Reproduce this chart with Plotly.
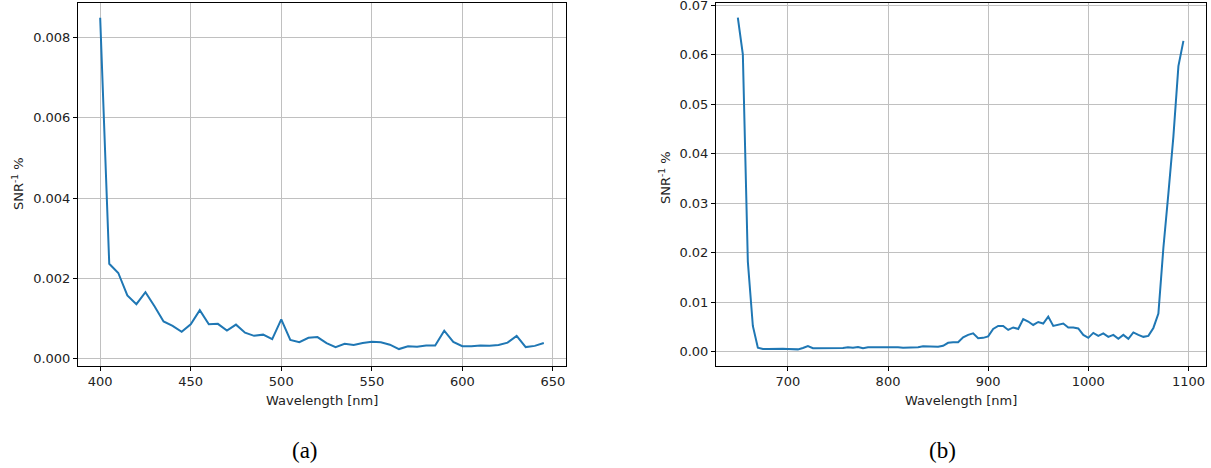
import plotly.graph_objects as go

# (a) visible band, 5 nm sampling
wl_a = list(range(400, 650, 5))
snr_a = [0.0085, 0.00236, 0.00213, 0.00157, 0.00135, 0.00165, 0.0013, 0.00092, 0.00081, 0.00066,
         0.00085, 0.0012, 0.00085, 0.00086, 0.00069, 0.00084, 0.00064, 0.00056, 0.00059, 0.00048,
         0.00097, 0.00046, 0.0004, 0.00051, 0.00053, 0.00038, 0.00028, 0.00036, 0.00033, 0.00038,
         0.00041, 0.0004, 0.00034, 0.00023, 0.0003, 0.00029, 0.00032, 0.00032, 0.00069, 0.00041,
         0.0003, 0.0003, 0.00032, 0.00031, 0.00033, 0.00039, 0.00056, 0.00028, 0.00031, 0.00038]

# (b) near-infrared band, 5 nm sampling
wl_b = list(range(650, 1100, 5))
snr_b = [0.0675, 0.0601, 0.0182, 0.0052, 0.0008, 0.00055, 0.00055, 0.0006, 0.0007, 0.0006,
         0.00055, 0.00055, 0.00047, 0.00075, 0.00115, 0.0007, 0.0007, 0.00075, 0.0008, 0.0008,
         0.0007, 0.00075, 0.0009, 0.0008, 0.00095, 0.0007, 0.0009, 0.0009, 0.001, 0.001,
         0.0009, 0.0009, 0.0009, 0.0008, 0.0008, 0.00095, 0.0009, 0.0011, 0.0011, 0.0011,
         0.001, 0.0012, 0.0018, 0.0019, 0.0019, 0.0029, 0.0034, 0.0037, 0.0027, 0.0028,
         0.0031, 0.0046, 0.0052, 0.0052, 0.0044, 0.0049, 0.0046, 0.0066, 0.0061, 0.0054,
         0.006, 0.0057, 0.0071, 0.0052, 0.0054, 0.0057, 0.0049, 0.0049, 0.0047, 0.0034,
         0.0028, 0.0038, 0.0032, 0.0037, 0.003, 0.0034, 0.0026, 0.0034, 0.0026, 0.0039,
         0.0034, 0.003, 0.0032, 0.0048, 0.0077, 0.021, 0.032, 0.0435, 0.0577, 0.0628]

ticks_xa = [400, 450, 500, 550, 600, 650]
ticks_ya = [0.0, 0.002, 0.004, 0.006, 0.008]
ticks_xb = [700, 800, 900, 1000, 1100]
ticks_yb = [0.0, 0.01, 0.02, 0.03, 0.04, 0.05, 0.06, 0.07]

W, H = 1211, 468
LINE = "#1f77b4"
TXT = "#222222"
FONT = dict(family="DejaVu Sans", size=13, color=TXT)


def py(px):
    return 1 - px / H


fig = go.Figure()
fig.add_trace(go.Scatter(x=wl_a, y=snr_a, mode="lines", line=dict(color=LINE, width=2),
                         xaxis="x", yaxis="y", showlegend=False))
fig.add_trace(go.Scatter(x=wl_b, y=snr_b, mode="lines", line=dict(color=LINE, width=2),
                         xaxis="x2", yaxis="y2", showlegend=False))

axis_common = dict(showline=True, linecolor="black", linewidth=1, mirror=True,
                   ticks="outside", ticklen=4, tickwidth=1, tickcolor="black",
                   showgrid=True, gridcolor="#c0c0c0", gridwidth=1,
                   zeroline=False, tickfont=FONT, ticklabeloverflow="allow",
                   automargin=False)

fig.update_layout(
    width=W, height=H,
    margin=dict(l=0, r=0, t=0, b=0, autoexpand=False),
    paper_bgcolor="white", plot_bgcolor="white",
    xaxis=dict(domain=[78 / W, 566 / W], anchor="y", range=[387.75, 657.25],
               tickvals=ticks_xa, **axis_common),
    yaxis=dict(domain=[py(365.7), py(2.7)], anchor="x", range=[-0.000185, 0.008875],
               tickvals=ticks_ya, tickformat=".3f", **axis_common),
    xaxis2=dict(domain=[716 / W, 1205.7 / W], anchor="y2", range=[628.2, 1117.25],
                tickvals=ticks_xb, **axis_common),
    yaxis2=dict(domain=[py(365.7), py(3.3)], anchor="x2", range=[-0.00283, 0.0704],
                tickvals=ticks_yb, tickformat=".2f", **axis_common),
)

annos = [
    dict(x=322 / W, y=py(400), text="Wavelength [nm]"),
    dict(x=961 / W, y=py(400), text="Wavelength [nm]"),
    dict(x=18 / W, y=py(184), text="SNR<sup>-1</sup> %", textangle=-90),
    dict(x=665 / W, y=py(178), text="SNR<sup>-1</sup> %", textangle=-90),
]
for a in annos:
    fig.add_annotation(xref="paper", yref="paper", showarrow=False,
                       xanchor="center", yanchor="middle", font=FONT, **a)

cap_font = dict(family="Liberation Serif", size=23, color="black")
fig.add_annotation(xref="paper", yref="paper", x=305 / W, y=py(450), text="(a)",
                   showarrow=False, xanchor="center", yanchor="middle", font=cap_font)
fig.add_annotation(xref="paper", yref="paper", x=943 / W, y=py(450), text="(b)",
                   showarrow=False, xanchor="center", yanchor="middle", font=cap_font)

fig.write_html("out.html")
